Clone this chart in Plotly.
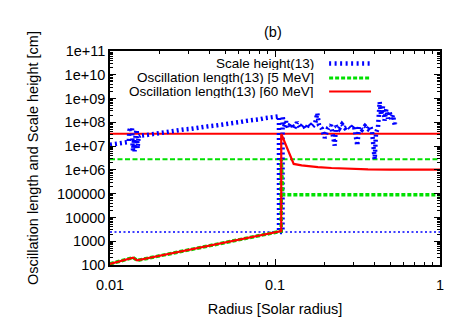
import plotly.graph_objects as go

# ---------------- data ----------------
# Scale height(13)
sh_r = [0.0100, 0.0105, 0.0110, 0.0115, 0.0120, 0.0125, 0.0130, 0.0131, 0.0133, 0.0135,
        0.0136, 0.0137, 0.0138, 0.0140, 0.0141, 0.0143, 0.0145, 0.0147, 0.0149, 0.0152,
        0.0150, 0.0170, 0.0190, 0.0210, 0.0230, 0.0250, 0.0280, 0.0310, 0.0340, 0.0370,
        0.0400, 0.0440, 0.0480, 0.0520, 0.0570, 0.0620, 0.0670, 0.0720, 0.0770, 0.0820,
        0.0870, 0.0920, 0.0970, 0.1010, 0.1040, 0.1057, 0.1058, 0.1110, 0.1112,
        0.1111, 0.1134, 0.1166, 0.1199, 0.1250, 0.1304, 0.1359, 0.1418, 0.1478, 0.1541,
        0.1607, 0.1676, 0.1747, 0.1804, 0.1848, 0.1927, 0.2001, 0.2096, 0.2185, 0.2300,
        0.2343, 0.2443, 0.2547, 0.2656, 0.2770, 0.2888, 0.3011, 0.3153, 0.3229, 0.3368,
        0.3512, 0.3661, 0.3766, 0.3872, 0.4020, 0.4094, 0.4210, 0.4310, 0.4390, 0.4514,
        0.4610, 0.4727, 0.4840, 0.4940, 0.5068, 0.5190, 0.5315, 0.5374]
sh_v = [1.15e7, 1.2e7, 1.28e7, 1.3e7, 1.38e7, 1.42e7, 1.5e7, 4.5e7, 6.0e7, 4.2e7,
        5.5e7, 1.1e7, 6.5e6, 2.0e7, 6.0e6, 3.0e7, 5.0e7, 8.0e6, 2.5e7, 2.8e7,
        2.7e7, 3.0e7, 3.4e7, 3.6e7, 4.1e7, 4.3e7, 5.0e7, 5.3e7, 6.0e7, 6.3e7,
        6.9e7, 7.4e7, 8.3e7, 8.7e7, 9.8e7, 1.04e8, 1.15e8, 1.2e8, 1.33e8, 1.37e8,
        1.5e8, 1.55e8, 1.68e8, 1.7e8, 1.85e8, 1.8e8, 2450, 2450, 1.87e8,
        1.87e8, 6.4e7, 1.09e8, 5.8e7, 9.1e7, 5.3e7, 1.0e8, 5.8e7, 8.3e7, 5.3e7,
        9.1e7, 6.4e7, 8.3e7, 2.45e8, 7.6e7, 5.3e7, 2.2e7, 5.8e7, 7.6e7, 1.06e7,
        7.0e7, 5.3e7, 8.3e7, 5.8e7, 7.0e7, 5.3e7, 7.6e7, 1.06e7, 6.4e7, 4.9e7,
        7.0e7, 5.3e7, 7.0e7, 4.1e7, 2.8e6, 3.4e7, 6.4e7, 7.2e8, 2.05e8, 4.6e8,
        1.19e8, 3.5e8, 1.43e8, 2.9e8, 1.31e8, 2.05e8, 7.6e7, 1.0e8]

# Oscillation length(13) [5 MeV]
osc5_r = [0.0100, 0.0138, 0.0146, 0.1091, 0.1091, 0.1115, 1.0]
osc5_v = [112, 205, 156, 2650, 2.8e6, 89000, 89000]

# Oscillation length(13) [60 MeV]
osc60_r = [0.0100, 0.0138, 0.0146, 0.1091, 0.1091, 0.1298, 0.145, 0.160, 0.182,
           0.220, 0.270, 0.366, 0.500, 0.700, 1.0]
osc60_v = [112, 205, 156, 2650, 3.3e7, 1.78e6, 1.55e6, 1.42e6, 1.31e6,
           1.2e6, 1.12e6, 1.05e6, 1.03e6, 1.02e6, 1.02e6]

# full-width reference levels
ref_r = [0.01, 1.0]
ref_sh = [2450, 2450]
ref_osc5 = [2.8e6, 2.8e6]
ref_osc60 = [3.3e7, 3.3e7]

series_names = ["Scale height(13)", "Oscillation length(13) [5 MeV]",
                "Oscillation length(13) [60 MeV]"]

x_tickvals = [0.01, 0.1, 1]
x_ticktext = ["0.01", "0.1", "1"]
y_tickvals = [1e2, 1e3, 1e4, 1e5, 1e6, 1e7, 1e8, 1e9, 1e10, 1e11]
y_ticktext = ["100", "1000", "10000", "100000", "1e+06", "1e+07", "1e+08",
              "1e+09", "1e+10", "1e+11"]

BLUE = "#0000ff"
GREEN = "#00e000"
RED = "#ff0000"
FS = 14.5

fig = go.Figure()

# reference levels
fig.add_trace(go.Scatter(x=ref_r, y=ref_sh, mode="lines", showlegend=False,
                         line=dict(color=BLUE, width=1.5, dash="2px,2.5px")))
fig.add_trace(go.Scatter(x=ref_r, y=ref_osc5, mode="lines", showlegend=False,
                         line=dict(color=GREEN, width=2, dash="5px,2.5px")))
fig.add_trace(go.Scatter(x=ref_r, y=ref_osc60, mode="lines", showlegend=False,
                         line=dict(color=RED, width=2)))

# main series
fig.add_trace(go.Scatter(x=sh_r, y=sh_v, mode="lines", name=series_names[0],
                         line=dict(color=BLUE, width=4.5, dash="2px,3px")))
fig.add_trace(go.Scatter(x=osc5_r, y=osc5_v, mode="lines", name=series_names[1],
                         line=dict(color=GREEN, width=3.5, dash="4px,2px")))
fig.add_trace(go.Scatter(x=osc60_r, y=osc60_v, mode="lines", name=series_names[2],
                         line=dict(color=RED, width=2.2)))

# gnuplot-style key: text right-aligned, sample on the right
key_rows = [0.942, 0.874, 0.811]
key_styles = [dict(color=BLUE, width=4.5, dash="2px,3.5px"),
              dict(color=GREEN, width=3, dash="4px,2px"),
              dict(color=RED, width=2)]
for name, yy, st in zip(series_names, key_rows, key_styles):
    fig.add_annotation(x=0.621, y=yy, xref="paper", yref="paper", text=name,
                       showarrow=False, xanchor="right", yanchor="middle",
                       height=13, borderpad=0, font=dict(size=13.5))
    fig.add_shape(type="line", xref="paper", yref="paper", x0=0.664, x1=0.791,
                  y0=yy, y1=yy, line=st)

fig.add_annotation(x=0.495, y=1.088, xref="paper", yref="paper", text="(b)",
                   showarrow=False, xanchor="center", yanchor="middle",
                   font=dict(size=FS))

axis_common = dict(type="log", ticks="inside", ticklen=6, tickwidth=1,
                   tickcolor="black", showline=True, linecolor="black",
                   linewidth=1.5, mirror="allticks", showgrid=False,
                   zeroline=False, tickfont=dict(size=FS),
                   minor=dict(ticks="inside", ticklen=3, tickcolor="black",
                              dtick="D1", showgrid=False))

fig.update_xaxes(range=[-2, 0], tickmode="array", tickvals=x_tickvals,
                 ticktext=x_ticktext, ticklabelstandoff=6,
                 title=dict(text="Radius [Solar radius]", font=dict(size=FS),
                            standoff=12),
                 **axis_common)
fig.update_yaxes(range=[2, 11], tickmode="array", tickvals=y_tickvals,
                 ticktext=y_ticktext,
                 title=dict(text="Oscillation length and Scale height [cm]",
                            font=dict(size=FS)),
                 **axis_common)

fig.update_layout(width=457, height=319,
                  margin=dict(l=102, r=25, t=43, b=45),
                  paper_bgcolor="white", plot_bgcolor="white",
                  showlegend=False,
                  font=dict(family="Liberation Sans, Arial, sans-serif",
                            size=FS, color="black"))

fig.write_html("out.html")
